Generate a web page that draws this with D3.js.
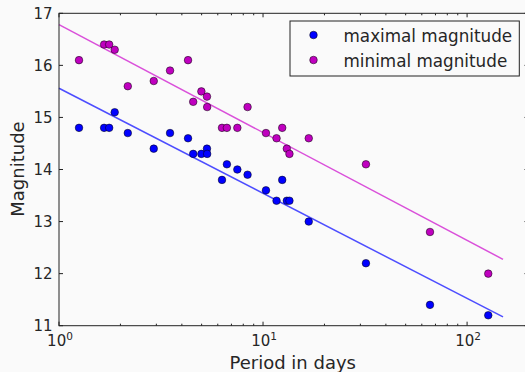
<!DOCTYPE html>
<html><head><meta charset="utf-8">
<script src="https://cdn.jsdelivr.net/npm/d3@7"></script>
<style>
html,body{margin:0;padding:0;background:#fafafa;}
text{font-family:"DejaVu Sans",sans-serif;fill:#262626;}
</style></head>
<body><svg id="c" width="525" height="372"></svg>
<script>
// Periods (days) of SMC variables and their magnitudes at maximum / minimum
const periods = [1.25336,1.6637,1.762,1.87502,2.17352,2.913,3.501,4.2897,4.547,4.9866,5.311,5.323,6.2926,6.65,7.483,8.397,10.336,11.645,12.417,13.08,13.47,16.75,31.94,65.8,127.0];
const maxMag = [14.8,14.8,14.8,15.1,14.7,14.4,14.7,14.6,14.3,14.3,14.4,14.3,13.8,14.1,14.0,13.9,13.6,13.4,13.8,13.4,13.4,13.0,12.2,11.4,11.2];
const minMag = [16.1,16.4,16.4,16.3,15.6,15.7,15.9,16.1,15.3,15.5,15.4,15.2,14.8,14.8,14.8,15.2,14.7,14.6,14.8,14.4,14.3,14.6,14.1,12.8,12.0];
const seriesNames = ["maximal magnitude","minimal magnitude"];
const yTicks = [11,12,13,14,15,16,17];
const xMajor = [1,10,100];
const xMinor = [2,3,4,5,6,7,8,9,20,30,40,50,60,70,80,90];
const fitRange = [1,150];

const svg = d3.select("#c");
const L=59, R=528.5, T=13.3, B=325.7;
const x = d3.scaleLog().domain([1,200]).range([L,R]);
const y = d3.scaleLinear().domain([11,17]).range([B,T]);
const pointColors = ["#0000ff","#bf00bf"];
const lineColors = ["#4d4dff","#da50da"];

svg.append("rect").attr("width",525).attr("height",372).attr("fill","#fafafa");

function fit(xs, ys){
  const lx = xs.map(v=>Math.log10(v));
  const mx = d3.mean(lx), my = d3.mean(ys);
  let sxy=0,sxx=0;
  lx.forEach((v,i)=>{sxy+=(v-mx)*(ys[i]-my); sxx+=(v-mx)*(v-mx);});
  const b = sxy/sxx, a = my-b*mx;
  return p => a + b*Math.log10(p);
}
const series = [maxMag, minMag];

// fit lines
series.forEach((s,i)=>{
  const f = fit(periods, s);
  svg.append("line")
    .attr("x1",x(fitRange[0])).attr("y1",y(f(fitRange[0])))
    .attr("x2",x(fitRange[1])).attr("y2",y(f(fitRange[1])))
    .attr("stroke",lineColors[i]).attr("stroke-width",1.5);
});

// points
series.forEach((s,i)=>{
  svg.append("g").selectAll("circle").data(periods).join("circle")
    .attr("cx",d=>x(d)).attr("cy",(d,j)=>y(s[j])).attr("r",3.8)
    .attr("fill",pointColors[i]).attr("stroke","#000").attr("stroke-width",0.5);
});

// frame
svg.append("rect").attr("x",L).attr("y",T).attr("width",R-L).attr("height",B-T)
  .attr("fill","none").attr("stroke","#222").attr("stroke-width",1);

const tg = svg.append("g").attr("stroke","#222").attr("stroke-width",1);
yTicks.forEach(v=>{
  tg.append("line").attr("x1",L).attr("x2",L+4).attr("y1",y(v)).attr("y2",y(v));
  tg.append("line").attr("x1",R).attr("x2",R-4).attr("y1",y(v)).attr("y2",y(v));
});
xMajor.forEach(v=>{
  tg.append("line").attr("x1",x(v)).attr("x2",x(v)).attr("y1",B).attr("y2",B-4);
  tg.append("line").attr("x1",x(v)).attr("x2",x(v)).attr("y1",T).attr("y2",T+4);
});
xMinor.forEach(v=>{
  tg.append("line").attr("x1",x(v)).attr("x2",x(v)).attr("y1",B).attr("y2",B-2);
  tg.append("line").attr("x1",x(v)).attr("x2",x(v)).attr("y1",T).attr("y2",T+2);
});

// y tick labels
svg.append("g").selectAll("text").data(yTicks).join("text")
  .attr("x",52.5).attr("y",d=>y(d)).attr("dy","0.36em")
  .attr("text-anchor","end").style("font-size","15px").text(d=>d);

// x tick labels
xMajor.forEach(v=>{
  const t = svg.append("text").attr("x",x(v)+1).attr("y",345.5)
    .attr("text-anchor","middle").style("font-size","15px");
  t.append("tspan").text("10");
  t.append("tspan").attr("dy",-6).style("font-size","10.5px").text(Math.round(Math.log10(v)));
});

// axis labels
svg.append("text").attr("x",(L+R)/2-1).attr("y",369).attr("text-anchor","middle")
  .style("font-size","18px").text("Period in days");
svg.append("text").attr("transform","translate(24,169) rotate(-90)").attr("text-anchor","middle")
  .style("font-size","18px").text("Magnitude");

// legend
const lg = svg.append("g");
lg.append("rect").attr("x",290).attr("y",21).attr("width",229.3).attr("height",55)
  .attr("fill","#fafafa").attr("stroke","#222").attr("stroke-width",1);
seriesNames.forEach((n,i)=>{
  const cy = 35 + i*25;
  lg.append("circle").attr("cx",313.5).attr("cy",cy).attr("r",3.8)
    .attr("fill",pointColors[i]).attr("stroke","#000").attr("stroke-width",0.5);
  lg.append("text").attr("x",343.5).attr("y",cy+6.5).style("font-size","16.8px").text(n);
});
</script></body></html>
